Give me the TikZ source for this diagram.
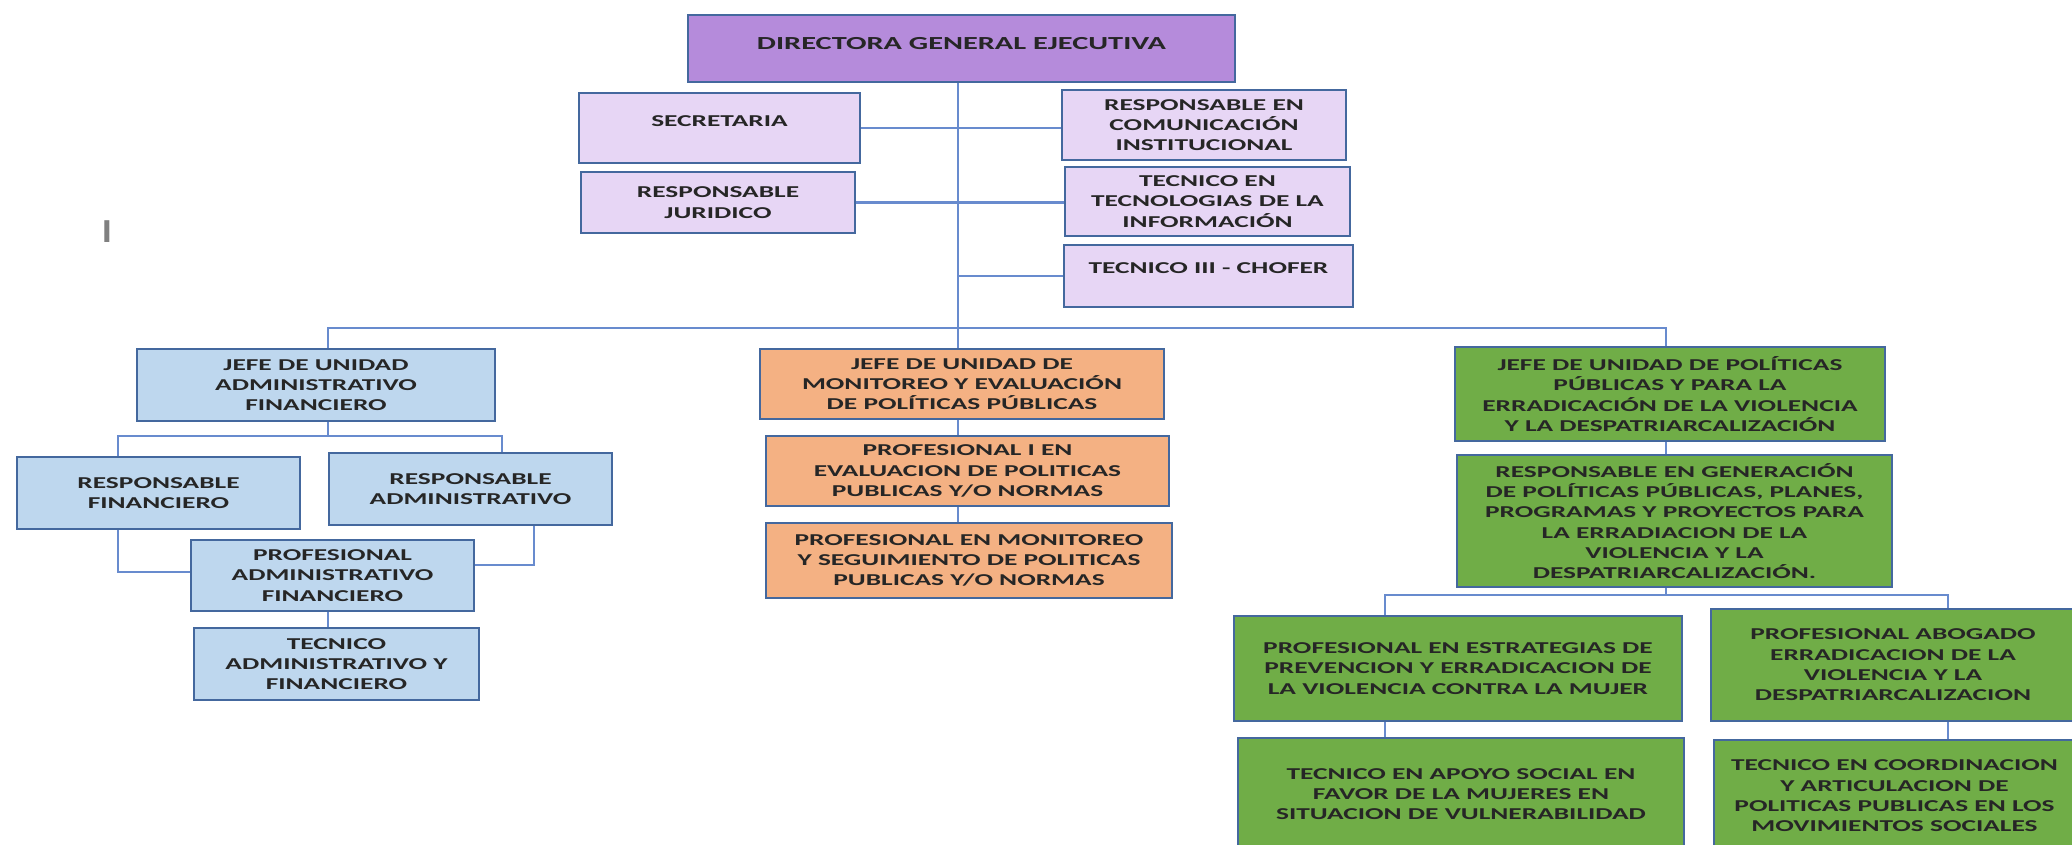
\documentclass[tikz,border=0pt]{standalone}
\usepackage{fontspec}
\setmainfont{Carlito}[FakeStretch=1.65]
\usetikzlibrary{positioning}
\definecolor{dirpurple}{RGB}{181,139,219}
\definecolor{staffviolet}{RGB}{231,214,245}
\definecolor{adminblue}{RGB}{190,215,238}
\definecolor{monorange}{RGB}{244,177,131}
\definecolor{polgreen}{RGB}{112,173,71}
\definecolor{boxline}{RGB}{68,104,158}
\definecolor{linkblue}{RGB}{104,139,206}
\tikzset{
-, % plain connector lines, no tips
x=0.5pt, y=-0.5pt, % one unit is one pixel of the chart, y runs downwards
orgbox/.style={draw=boxline, line width=1pt, align=center, inner sep=0pt, text=black!85, font=\fontsize{8.3}{10.15}\selectfont\bfseries}, % sets the look of every box
link/.style={draw=linkblue, line width=1.1pt}, % sets the look of the connectors
}
\tikzset{
  director/.style={orgbox, fill=dirpurple, font=\fontsize{9.2}{10.15}\selectfont\bfseries},
  staff/.style={orgbox, fill=staffviolet},
  admin/.style={orgbox, fill=adminblue},
  monitor/.style={orgbox, fill=monorange},
  policy/.style={orgbox, fill=polgreen}
}

\begin{document}
\begin{tikzpicture}
      \useasboundingbox (0,0) rectangle (2072,845);
      \fill[white] (0,0) rectangle (2072,845);
      \clip (0,0) rectangle (2072,845);

      % guide lines of the connectors
      \coordinate (trunk) at (958,0);
      \coordinate (admx) at (328,0);
      \coordinate (polx) at (1666,0);
      \coordinate (finx) at (118,0);
      \coordinate (admr) at (502,0);
      \coordinate (admb) at (534,0);
      \coordinate (estx) at (1385,0);
      \coordinate (abox) at (1948,0);
      \coordinate (bus) at (0,328);
      \coordinate (suba) at (0,436);
      \coordinate (subp) at (0,595);
      \coordinate (lowa) at (0,572);
      \coordinate (lowb) at (0,565);

      \node[text=black!50, font=\fontsize{17}{17}\selectfont] (caret) at (107,232) {I};

      \node[director, minimum width=273.5pt, minimum height=33.5pt, text depth=5.5pt] (dge) at (961.5,48.5) {DIRECTORA GENERAL EJECUTIVA};
      \node[staff, minimum width=140.5pt, minimum height=35pt, text depth=7pt] (sec) at (719.5,128) {SECRETARIA};
      \node[staff, minimum width=137pt, minimum height=30.5pt] (jur) at (718,202.5) {RESPONSABLE\\JURIDICO};
      \node[staff, minimum width=142pt, minimum height=35pt] (com) at (1204,125) {RESPONSABLE EN\\COMUNICACIÓN\\INSTITUCIONAL};
      \node[staff, minimum width=142.5pt, minimum height=34.5pt] (tic) at (1207.5,201.5) {TECNICO EN\\TECNOLOGIAS DE LA\\INFORMACIÓN};
      \node[staff, minimum width=144.5pt, minimum height=31pt, text depth=8pt] (cho) at (1208.5,276) {TECNICO III - CHOFER};

      \node[admin, minimum width=179pt, minimum height=36pt] (jadm) at (316,385) {JEFE DE UNIDAD\\ADMINISTRATIVO\\FINANCIERO};
      \node[admin, minimum width=141.5pt, minimum height=36pt] (rfin) at (158.5,493) {RESPONSABLE\\FINANCIERO};
      \node[admin, minimum width=141.5pt, minimum height=36pt] (radm) at (470.5,489) {RESPONSABLE\\ADMINISTRATIVO};
      \node[admin, minimum width=141.5pt, minimum height=35.5pt] (padm) at (332.5,575.5) {PROFESIONAL\\ADMINISTRATIVO\\FINANCIERO};
      \node[admin, minimum width=142.5pt, minimum height=36pt] (tadm) at (336.5,664) {TECNICO\\ADMINISTRATIVO Y\\FINANCIERO};

      \node[monitor, minimum width=202pt, minimum height=35pt] (jmon) at (962,384) {JEFE DE UNIDAD DE\\MONITOREO Y EVALUACIÓN\\DE POLÍTICAS PÚBLICAS};
      \node[monitor, minimum width=201.5pt, minimum height=35pt] (pev) at (967.5,471) {PROFESIONAL I EN\\EVALUACION DE POLITICAS\\PUBLICAS Y/O NORMAS};
      \node[monitor, minimum width=203pt, minimum height=37.5pt] (pmon) at (969,560.5) {PROFESIONAL EN MONITOREO\\Y SEGUIMIENTO DE POLITICAS\\PUBLICAS Y/O NORMAS};

      \node[policy, minimum width=215pt, minimum height=47pt] (jpol) at (1670,394) {JEFE DE UNIDAD DE POLÍTICAS\\PÚBLICAS Y PARA LA\\ERRADICACIÓN DE LA VIOLENCIA\\Y LA DESPATRIARCALIZACIÓN};
      \node[policy, minimum width=217.5pt, minimum height=66pt] (rgen) at (1674.5,521) {RESPONSABLE EN GENERACIÓN\\DE POLÍTICAS PÚBLICAS, PLANES,\\PROGRAMAS Y PROYECTOS PARA\\LA ERRADIACION DE LA\\VIOLENCIA Y LA\\DESPATRIARCALIZACIÓN.};
      \node[policy, minimum width=224pt, minimum height=52.5pt] (pest) at (1458,668.5) {PROFESIONAL EN ESTRATEGIAS DE\\PREVENCION Y ERRADICACION DE\\LA VIOLENCIA CONTRA LA MUJER};
      \node[policy, minimum width=182pt, minimum height=56pt] (pabo) at (1893,665) {PROFESIONAL ABOGADO\\ERRADICACION DE LA\\VIOLENCIA Y LA\\DESPATRIARCALIZACION};
      \node[policy, minimum width=223pt, minimum height=56.5pt] (tapo) at (1461,794) {TECNICO EN APOYO SOCIAL EN\\FAVOR DE LA MUJERES EN\\SITUACION DE VULNERABILIDAD};
      \node[policy, minimum width=180.5pt, minimum height=56.5pt] (tcoo) at (1894.5,796) {TECNICO EN COORDINACION\\Y ARTICULACION DE\\POLITICAS PUBLICAS EN LOS\\MOVIMIENTOS SOCIALES};

      \draw[link] (dge.south -| trunk) -- (jmon.north -| trunk)
      (sec.east) -- (com.west |- sec.east)
      (jur.east) -- (tic.west |- jur.east)
      (cho.west) -- (cho.west -| trunk)
      (jadm.north -| admx) |- (bus -| polx) -- (jpol.north -| polx)
      (jadm.south -| admx) -- (suba -| admx)
      (rfin.north -| finx) |- (suba -| admr) -- (radm.north -| admr)
      (rfin.south -| finx) |- (padm.west |- lowa)
      (radm.south -| admb) |- (padm.east |- lowb)
      (padm.south -| admx) -- (tadm.north -| admx)
      (jmon.south -| trunk) -- (pev.north -| trunk)
      (pev.south -| trunk) -- (pmon.north -| trunk)
      (jpol.south -| polx) -- (rgen.north -| polx)
      (rgen.south -| polx) -- (subp -| polx)
      (pest.north -| estx) |- (subp -| abox) -- (pabo.north -| abox)
      (pest.south -| estx) -- (tapo.north -| estx)
      (pabo.south -| abox) -- (tcoo.north -| abox);
\end{tikzpicture}
\end{document}
